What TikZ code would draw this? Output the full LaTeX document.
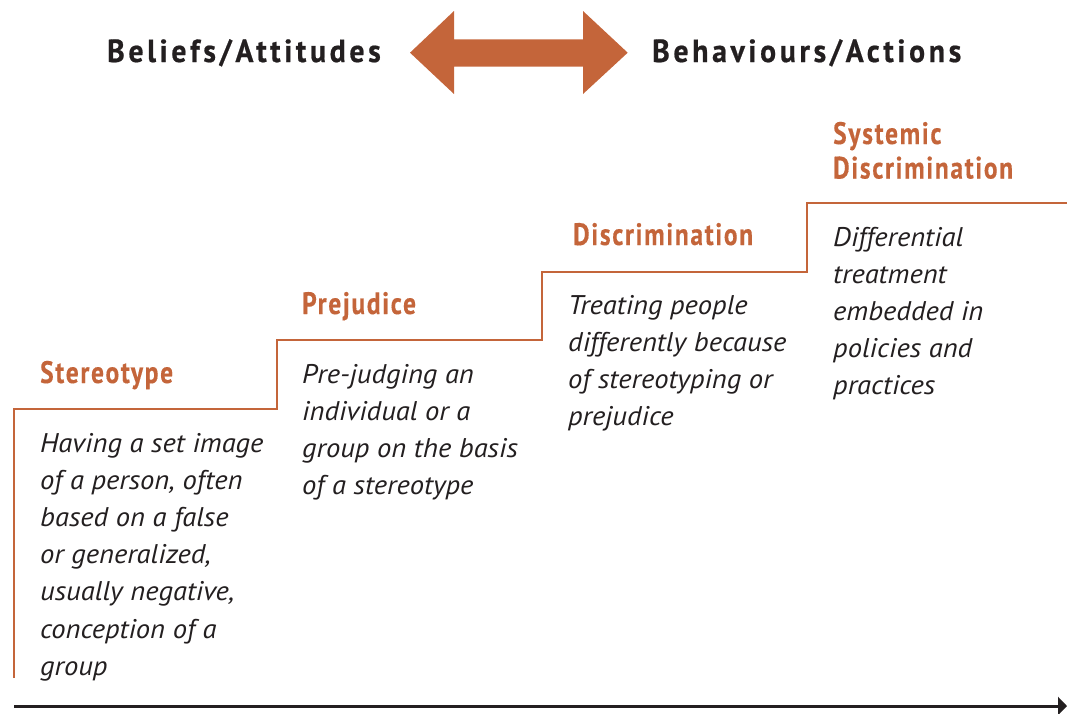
\documentclass[tikz,border=0pt]{standalone}
\usepackage{fontspec}
\usetikzlibrary{arrows.meta}
\setmainfont{PT Sans}
\newfontfamily\bigheadfont[FakeStretch=0.93,LetterSpace=11.5,FakeBold=0.6]{PT Sans Bold}
\newfontfamily\headfont[FakeStretch=0.82,LetterSpace=5.5,FakeBold=0.3]{PT Sans Bold}
\newfontfamily\bodyfont[FakeStretch=1.06]{PT Sans Italic}
\definecolor{rust}{RGB}{196,101,58}
\definecolor{ink}{RGB}{35,31,32}
\newcommand{\toplines}[1]{\parbox[t]{300pt}{\raggedright #1}}
\tikzset{
  bighead/.style={anchor=base west,inner sep=0pt,text=ink,font=\bigheadfont\fontsize{32pt}{36pt}\selectfont},
  stephead/.style={anchor=base west,inner sep=0pt,text=rust,font=\headfont\fontsize{31pt}{34.5pt}\selectfont},
  stepbody/.style={anchor=base west,inner sep=0pt,text=ink,font=\bodyfont\fontsize{27pt}{37.2pt}\selectfont},
  stair/.style={draw=rust,line width=2.5pt,line join=miter},
  axis/.style={draw=ink,line width=3pt,-{Triangle[length=9pt,width=18pt]}}
}
\begin{document}
\begin{tikzpicture}[x=1pt,y=-1pt]
\useasboundingbox (0,0) rectangle (1067,713);
% top headings
\node[bighead] (beliefs) at (107,62) {Beliefs/Attitudes};
\node[bighead] (behav) at (652,62) {Behaviours/Actions};
% double arrow
\fill[rust] (410,52.7) -- (454,11) -- (454,39.3) -- (583,39.3) -- (583,11) -- (627.7,52.7)
  -- (583,94) -- (583,66.7) -- (454,66.7) -- (454,94) -- cycle;
% staircase
\coordinate (s0) at (14,678);
\coordinate (s1) at (14,409);
\coordinate (s2) at (277,409);
\coordinate (s3) at (277,340);
\coordinate (s4) at (542,340);
\coordinate (s5) at (542,272);
\coordinate (s6) at (807,272);
\coordinate (s7) at (807,203);
\coordinate (s8) at (1067,203);
\draw[stair] (s0) -- (s1) -- (s2) -- (s3) -- (s4) -- (s5) -- (s6) -- (s7) -- (s8);
% headings
\node[stephead] (h1) at (40,383) {Stereotype};
\node[stephead] (h2) at (302,314) {Prejudice};
\node[stephead] (h3) at (573,245) {Discrimination};
\node[stephead] (h4) at (833,144) {\toplines{Systemic\\Discrimination}};
% bodies
\node[stepbody] (b1) at (40,452) {\toplines{Having a set image\\of a person, often\\based on a false\\or generalized,\\usually negative,\\conception of a\\group}};
\node[stepbody] (b2) at (302,383) {\toplines{Pre-judging an\\individual or a\\group on the basis\\of a stereotype}};
\node[stepbody] (b3) at (568,314) {\toplines{Treating people\\differently because\\of stereotyping or\\prejudice}};
\node[stepbody] (b4) at (833,246) {\toplines{Differential\\treatment\\embedded in\\policies and\\practices}};
% bottom axis
\coordinate (a0) at (14,706);
\coordinate (a1) at (1067,706);
\draw[axis] (a0) -- (a1);
\end{tikzpicture}
\end{document}
